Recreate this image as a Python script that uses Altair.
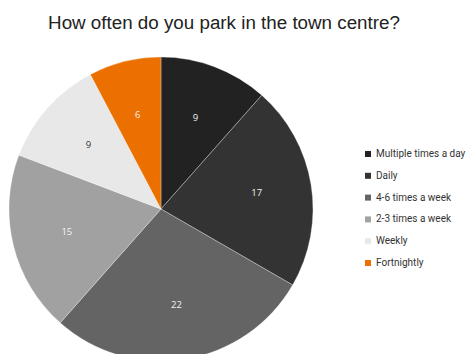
import altair as alt
import pandas as pd

categories = ["Multiple times a day", "Daily", "4-6 times a week",
              "2-3 times a week", "Weekly", "Fortnightly"]
counts = [9, 17, 22, 15, 9, 6]
colors = ["#222222", "#333333", "#646464", "#a1a1a1", "#e8e8e8", "#ec7000"]

df = pd.DataFrame({"category": categories, "count": counts,
                   "ord": list(range(len(categories)))})

cx, cy, R = 153, 201, 152

base = alt.Chart(df).encode(
    theta=alt.Theta("count:Q", stack=True),
    order=alt.Order("ord:Q"),
)

pie = base.mark_arc(radius=R, stroke="#ffffff", strokeWidth=0.3).encode(
    x=alt.value(cx), y=alt.value(cy),
    color=alt.Color("category:N",
                    scale=alt.Scale(domain=categories, range=colors),
                    sort=categories,
                    legend=alt.Legend(title=None, orient="none",
                                      legendX=355, legendY=141,
                                      symbolType="square", symbolSize=36,
                                      symbolStrokeWidth=0,
                                      labelFont="Roboto", labelFontSize=10,
                                      labelColor="#333333", rowPadding=11.8,
                                      labelLimit=200,
                                      symbolOffset=0, labelOffset=3)),
)

labels = base.mark_text(radius=97, font="Open Sans", fontSize=9.5).encode(
    x=alt.value(cx), y=alt.value(cy),
    text="count:Q",
    color=alt.condition(alt.datum.category == "Weekly",
                        alt.value("#333333"), alt.value("#f2f2f2")),
)

title = alt.Chart(pd.DataFrame({"t": ["How often do you park in the town centre?"]})).mark_text(
    font="Liberation Sans", fontSize=18.8, color="#222222", baseline="alphabetic"
).encode(x=alt.value(216), y=alt.value(21), text="t:N")

chart = alt.layer(pie, labels, title).properties(
    width=459, height=346, padding=0, autosize=alt.AutoSizeParams(type="none")
).configure_view(stroke=None)

chart.save("out.html", embed_options={"renderer": "svg", "actions": False})
